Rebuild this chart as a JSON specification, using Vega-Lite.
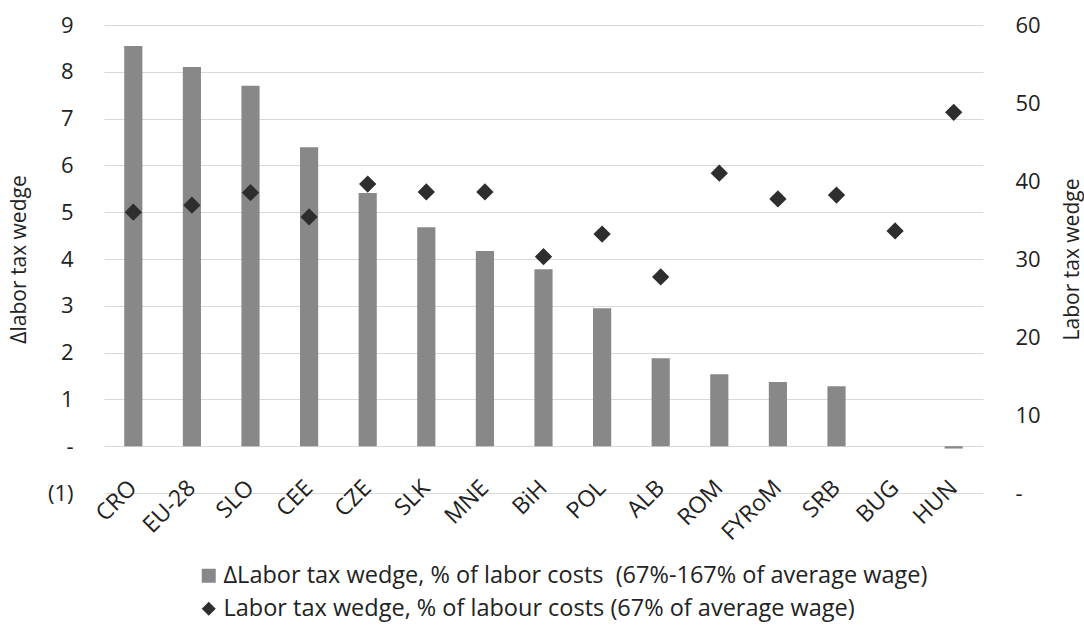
{
  "$schema": "https://vega.github.io/schema/vega-lite/v6.json",
  "autosize": {"type": "none"},
  "width": 879,
  "height": 468,
  "padding": {"left": 104, "top": 25, "right": 101, "bottom": 135},
  "background": "white",
  "config": {
    "font": "Open Sans",
    "view": {"stroke": null},
    "axis": {"labelColor": "#222222", "titleColor": "#222222", "domain": false, "ticks": false, "tickSize": 0},
    "legend": {"labelColor": "#222222"}
  },
  "data": {
    "values": [
      {"c": "CRO", "d": 8.55, "w": 36.0},
      {"c": "EU-28", "d": 8.1, "w": 36.9},
      {"c": "SLO", "d": 7.7, "w": 38.5},
      {"c": "CEE", "d": 6.39, "w": 35.4},
      {"c": "CZE", "d": 5.41, "w": 39.6},
      {"c": "SLK", "d": 4.68, "w": 38.6},
      {"c": "MNE", "d": 4.17, "w": 38.6},
      {"c": "BiH", "d": 3.78, "w": 30.3},
      {"c": "POL", "d": 2.95, "w": 33.2},
      {"c": "ALB", "d": 1.88, "w": 27.7},
      {"c": "ROM", "d": 1.54, "w": 41.0},
      {"c": "FYRoM", "d": 1.37, "w": 37.7},
      {"c": "SRB", "d": 1.28, "w": 38.2},
      {"c": "BUG", "d": 0, "w": 33.6},
      {"c": "HUN", "d": -0.05, "w": 48.8}
    ]
  },
  "encoding": {
    "x": {
      "field": "c", "type": "nominal", "sort": null,
      "scale": {"paddingInner": 0.69, "paddingOuter": 0.345},
      "axis": {"title": null, "labelAngle": -45, "labelAlign": "right", "labelBaseline": "middle", "labelFontSize": 23, "labelPadding": 38, "offset": -47, "grid": false}
    }
  },
  "layer": [
    {
      "mark": {"type": "bar"},
      "encoding": {
        "y": {
          "field": "d", "type": "quantitative",
          "scale": {"domain": [-1, 9], "nice": false, "zero": false},
          "axis": {
            "values": [-1, 0, 1, 2, 3, 4, 5, 6, 7, 8, 9],
            "grid": true, "gridColor": "#d9d9d9", "gridWidth": 1.2,
            "labelExpr": "datum.value == 0 ? '-' : (datum.value < 0 ? '(' + abs(datum.value) + ')' : datum.label)",
            "labelFontSize": 22, "labelPadding": 31,
            "title": "Δlabor tax wedge", "titleFontSize": 21, "titleFontWeight": "normal",
            "titleAngle": -90, "titleX": -85, "titleY": 234, "titleAlign": "center", "titleBaseline": "middle"
          }
        },
        "color": {
          "datum": "ΔLabor tax wedge, % of labor costs\u00a0 (67%-167% of average wage)",
          "type": "nominal",
          "scale": {"domain": ["ΔLabor tax wedge, % of labor costs\u00a0 (67%-167% of average wage)", "Labor tax wedge, % of labour costs (67% of average wage)"], "range": ["#888888", "#2e2e2e"]},
          "legend": {
            "orient": "none", "legendX": 93, "legendY": 539, "direction": "vertical", "title": null,
            "labelFontSize": 23.5, "symbolSize": 196, "rowPadding": 8, "labelLimit": 0, "labelOffset": 3,
            "symbolType": "square", "symbolStrokeWidth": 0,
            "encode": {"symbols": {"update": {"shape": {"signal": "datum.value === 'Labor tax wedge, % of labour costs (67% of average wage)' ? 'diamond' : 'square'"}}}}
          }
        }
      }
    },
    {
      "mark": {"type": "point", "shape": "diamond", "filled": true, "size": 300, "opacity": 1},
      "encoding": {
        "y": {
          "field": "w", "type": "quantitative",
          "scale": {"domain": [0, 60], "nice": false},
          "axis": {
            "orient": "right",
            "values": [0, 10, 20, 30, 40, 50, 60],
            "grid": false,
            "labelExpr": "datum.value == 0 ? '-' : datum.label",
            "labelFontSize": 22, "labelPadding": 32,
            "title": "Labor tax wedge", "titleFontSize": 21, "titleFontWeight": "normal",
            "titleAngle": -90, "titleX": 89, "titleY": 234, "titleAlign": "center", "titleBaseline": "middle"
          }
        },
        "color": {
          "datum": "Labor tax wedge, % of labour costs (67% of average wage)",
          "type": "nominal",
          "scale": {"domain": ["ΔLabor tax wedge, % of labor costs\u00a0 (67%-167% of average wage)", "Labor tax wedge, % of labour costs (67% of average wage)"], "range": ["#888888", "#2e2e2e"]}
        }
      }
    }
  ],
  "resolve": {"scale": {"y": "independent"}}
}
